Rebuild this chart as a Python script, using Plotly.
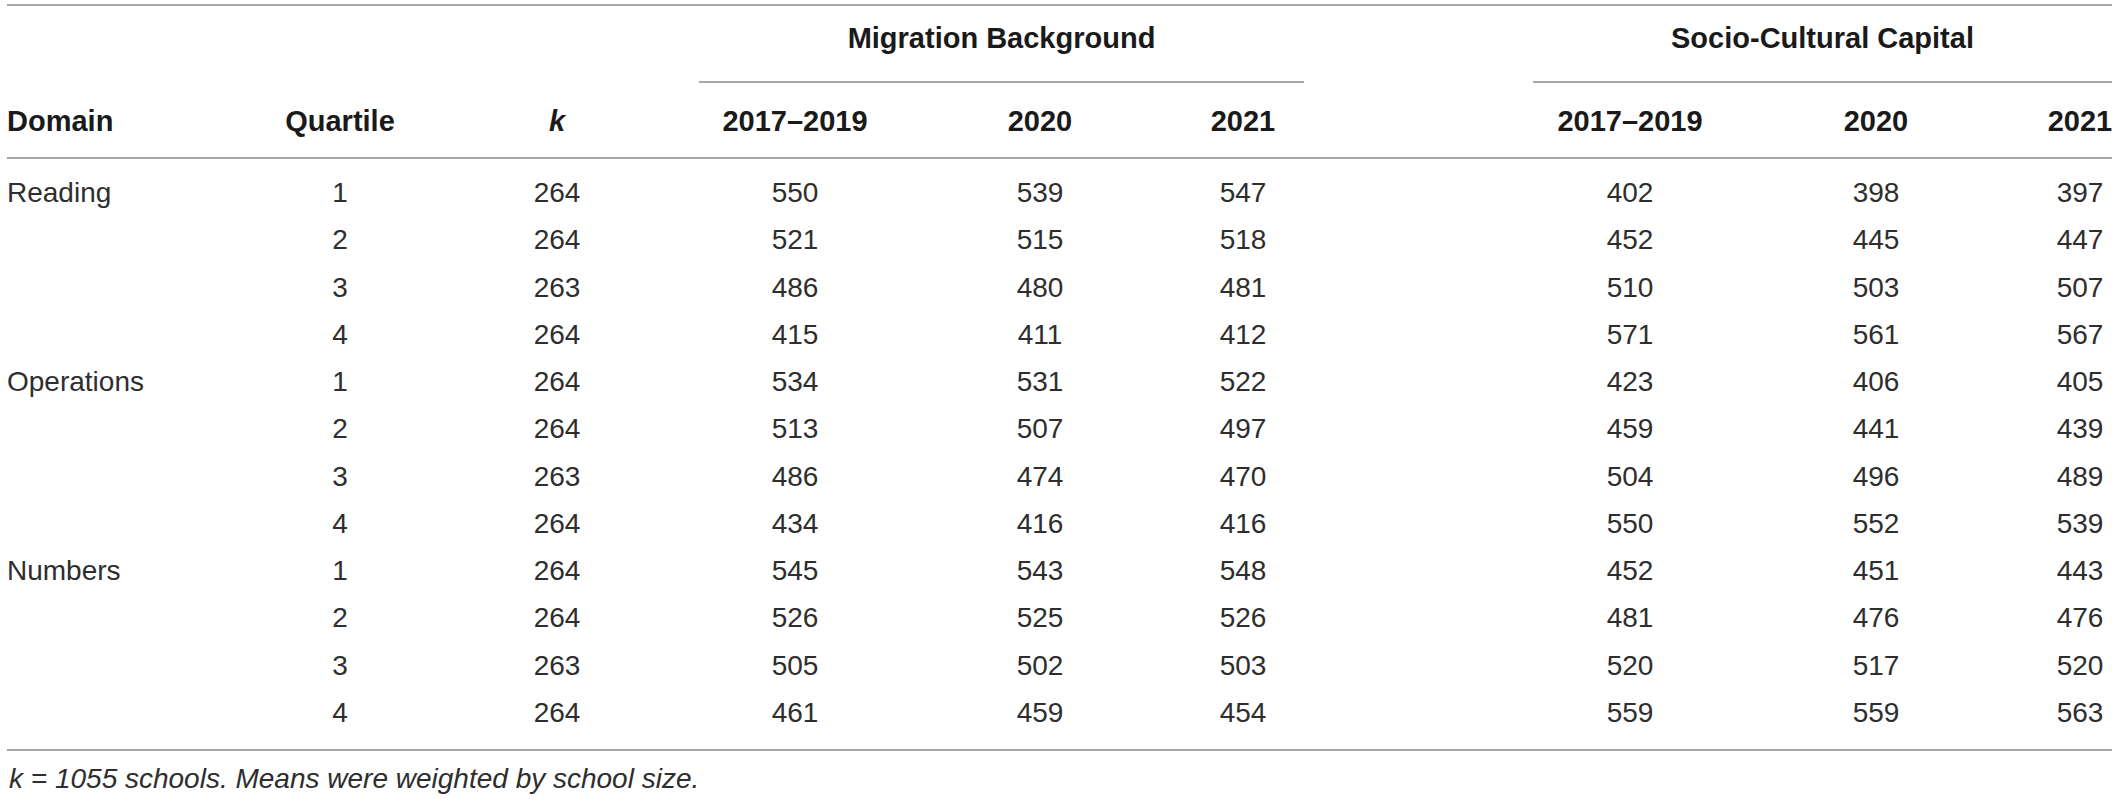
import plotly.graph_objects as go

# table values
domains = ["Reading", "", "", "", "Operations", "", "", "", "Numbers", "", "", ""]
quartiles = [1, 2, 3, 4, 1, 2, 3, 4, 1, 2, 3, 4]
k_schools = [264, 264, 263, 264, 264, 264, 263, 264, 264, 264, 263, 264]

mig_2017_2019 = [550, 521, 486, 415, 534, 513, 486, 434, 545, 526, 505, 461]
mig_2020 = [539, 515, 480, 411, 531, 507, 474, 416, 543, 525, 502, 459]
mig_2021 = [547, 518, 481, 412, 522, 497, 470, 416, 548, 526, 503, 454]

scc_2017_2019 = [402, 452, 510, 571, 423, 459, 504, 550, 452, 481, 520, 559]
scc_2020 = [398, 445, 503, 561, 406, 441, 496, 552, 451, 476, 517, 559]
scc_2021 = [397, 447, 507, 567, 405, 439, 489, 539, 443, 476, 520, 563]

col_headers = ["Domain", "Quartile", "<i>k</i>", "2017–2019", "2020", "2021",
               "2017–2019", "2020", "2021"]
group_titles = ["Migration Background", "Socio-Cultural Capital"]
footnote = "<i>k = 1055 schools. Means were weighted by school size.</i>"

# layout in page pixels (window is 2118 x 799)
W, H = 2118, 799
LEFT, RIGHT = 7, 2112
col_x = [7, 340, 557, 795, 1040, 1243, 1630, 1876, 2080]
row0, row_step = 195, 47.25
header_y = 124
FONT = "Liberation Sans, Arial, Helvetica, sans-serif"
LINE = "#8a8a8a"
DARK = "#1a1a1a"
BODY = "#2e2e2e"

columns = [domains, quartiles, k_schools, mig_2017_2019, mig_2020, mig_2021,
           scc_2017_2019, scc_2020, scc_2021]
row_y = [row0 + i * row_step for i in range(len(quartiles))]

fig = go.Figure()

# body cells
for j, col in enumerate(columns):
    fig.add_trace(go.Scatter(
        x=[col_x[j]] * len(col), y=row_y, mode="text",
        text=[str(v) for v in col],
        textposition="middle right" if j == 0 else "middle center",
        textfont=dict(family=FONT, size=28, color=BODY),
        hoverinfo="skip", showlegend=False))

# column headers
fig.add_trace(go.Scatter(
    x=col_x[1:], y=[header_y] * (len(col_headers) - 1), mode="text",
    text=col_headers[1:], textposition="middle center",
    textfont=dict(family=FONT, size=29, color=DARK, weight="bold"),
    hoverinfo="skip", showlegend=False))
fig.add_trace(go.Scatter(
    x=[col_x[0]], y=[header_y], mode="text", text=[col_headers[0]],
    textposition="middle right",
    textfont=dict(family=FONT, size=29, color=DARK, weight="bold"),
    hoverinfo="skip", showlegend=False))

# group headers with their rules
groups = [(699, 1304), (1533, RIGHT)]
for title, (x0, x1) in zip(group_titles, groups):
    fig.add_trace(go.Scatter(
        x=[(x0 + x1) / 2], y=[41], mode="text", text=[title],
        textposition="middle center",
        textfont=dict(family=FONT, size=29, color=DARK, weight="bold"),
        hoverinfo="skip", showlegend=False))
    fig.add_shape(type="line", x0=x0, x1=x1, y0=82, y1=82,
                  line=dict(color=LINE, width=1.5))

for y in [5, 158, 750]:
    fig.add_shape(type="line", x0=LEFT, x1=RIGHT, y0=y, y1=y,
                  line=dict(color=LINE, width=1.5))

fig.add_annotation(x=LEFT, y=778, text=footnote, showarrow=False,
                   xanchor="left", yanchor="middle",
                   font=dict(family=FONT, size=28, color=BODY))

fig.update_layout(
    width=W, height=H, margin=dict(l=0, r=0, t=0, b=0),
    paper_bgcolor="white", plot_bgcolor="white",
    xaxis=dict(range=[0, W], visible=False, fixedrange=True),
    yaxis=dict(range=[H, 0], visible=False, fixedrange=True),
)

# drop the browser's default body margin so the figure fills the window
fig.write_html("out.html", config={"displayModeBar": False},
               post_script="document.body.style.margin='0';"
                           "document.body.style.overflow='hidden';")
